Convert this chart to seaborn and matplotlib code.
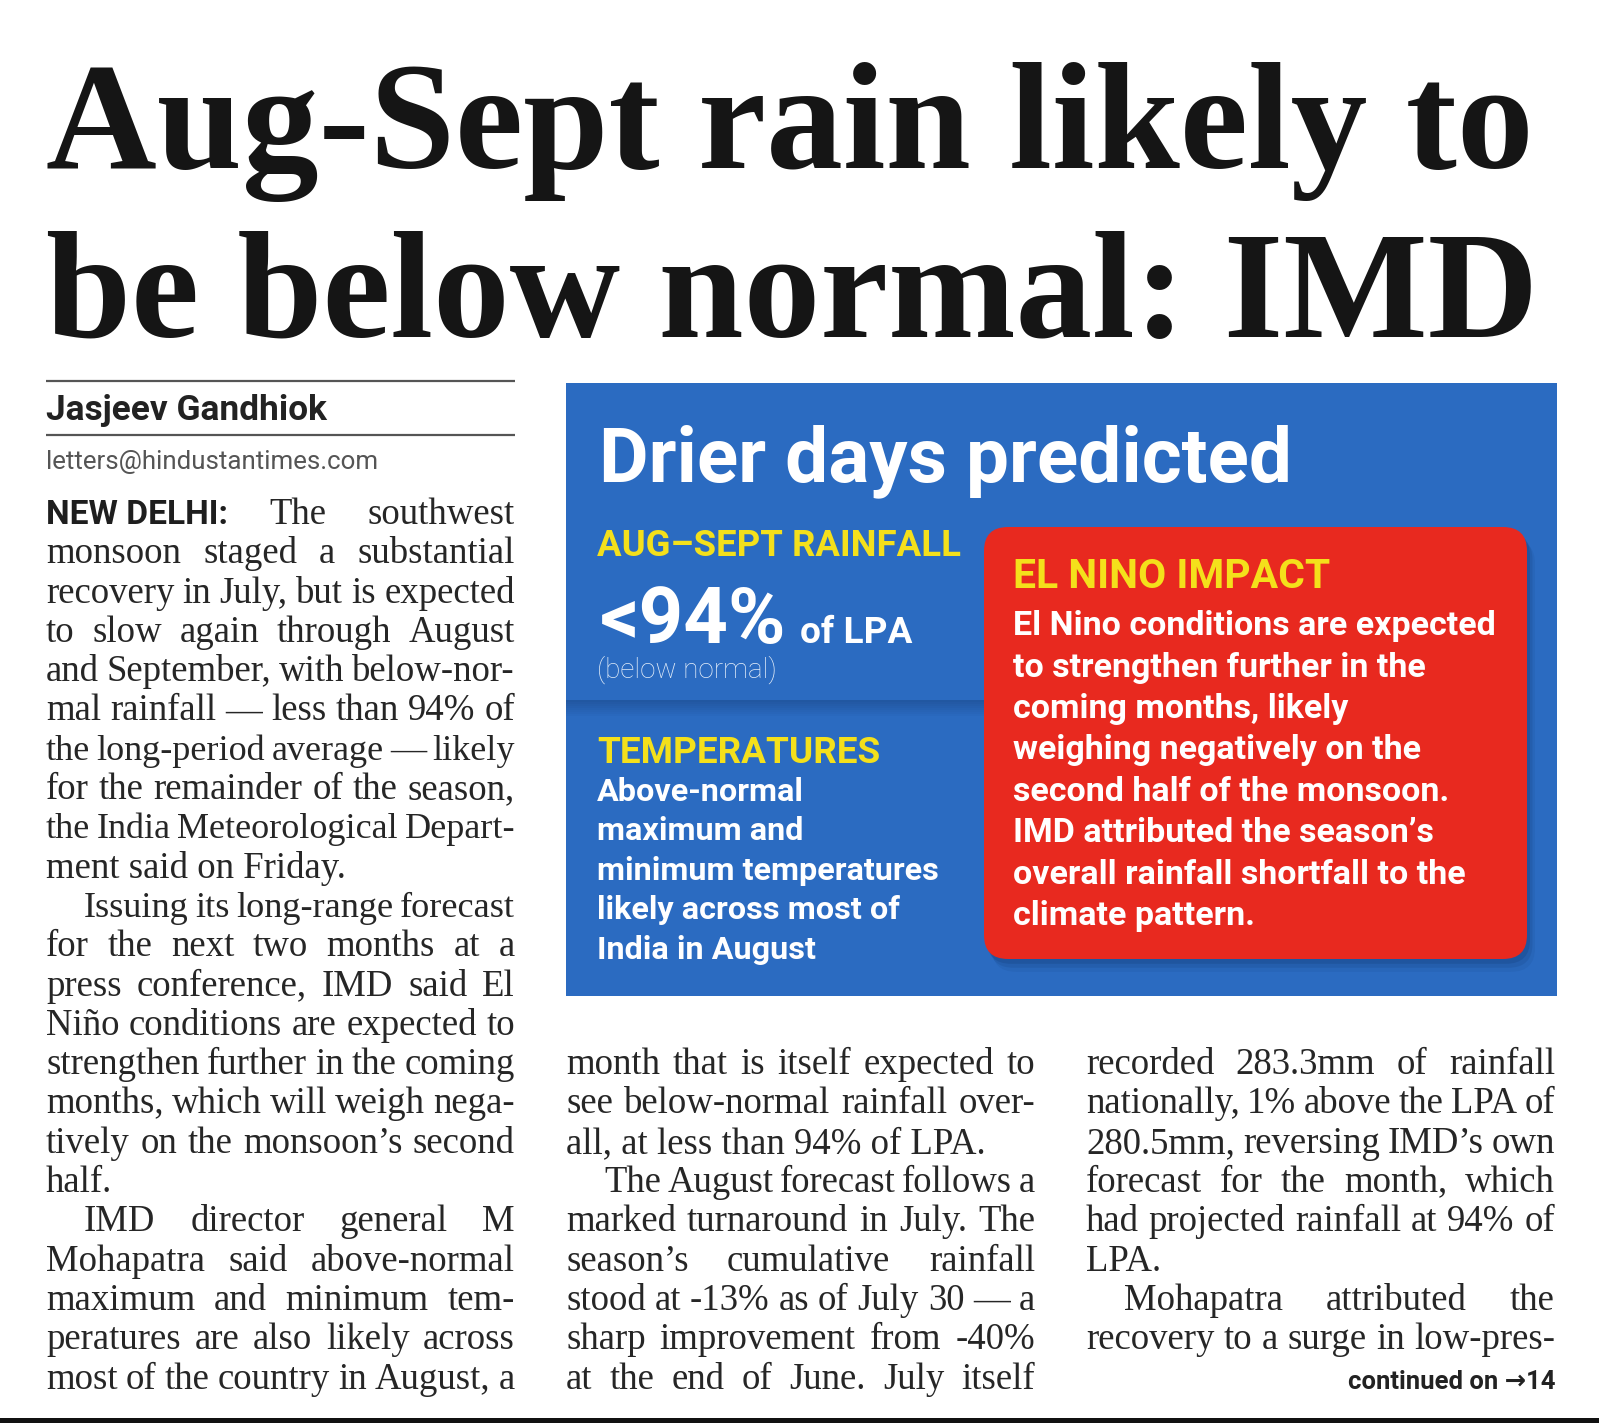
import matplotlib
matplotlib.use("Agg")
import matplotlib.pyplot as plt
import seaborn as sns
from matplotlib import font_manager
from matplotlib.patches import Rectangle, FancyBboxPatch

# ---- page text ----
headline = ["Aug-Sept rain likely to", "be below normal: IMD"]
byline = "Jasjeev Gandhiok"
email = "letters@hindustantimes.com"
dateline = "NEW DELHI:"

col1_paras = [
    ["The southwest",
     "monsoon staged a substantial",
     "recovery in July, but is expected",
     "to slow again through August",
     "and September, with below-nor-",
     "mal rainfall \u2014 less than 94% of",
     "the long-period average \u2014 likely",
     "for the remainder of the season,",
     "the India Meteorological Depart-",
     "ment said on Friday."],
    ["Issuing its long-range forecast",
     "for the next two months at a",
     "press conference, IMD said El",
     "Ni\u00f1o conditions are expected to",
     "strengthen further in the coming",
     "months, which will weigh nega-",
     "tively on the monsoon\u2019s second",
     "half."],
    ["IMD director general M",
     "Mohapatra said above-normal",
     "maximum and minimum tem-",
     "peratures are also likely across",
     "most of the country in August, a"],
]
col2_paras = [
    ["month that is itself expected to",
     "see below-normal rainfall over-",
     "all, at less than 94% of LPA."],
    ["The August forecast follows a",
     "marked turnaround in July. The",
     "season\u2019s cumulative rainfall",
     "stood at -13% as of July 30 \u2014 a",
     "sharp improvement from -40%",
     "at the end of June. July itself"],
]
col3_paras = [
    ["recorded 283.3mm of rainfall",
     "nationally, 1% above the LPA of",
     "280.5mm, reversing IMD\u2019s own",
     "forecast for the month, which",
     "had projected rainfall at 94% of",
     "LPA."],
    ["Mohapatra attributed the",
     "recovery to a surge in low-pres-"],
]
continued = "continued on \u219214"

box_title = "Drier days predicted"
rain_label = "AUG\u2013SEPT RAINFALL"
rain_value = "<94%"
rain_unit = "of LPA"
rain_note = "(below normal)"
temp_label = "TEMPERATURES"
temp_lines = ["Above-normal", "maximum and", "minimum temperatures",
              "likely across most of", "India in August"]
nino_label = "EL NINO IMPACT"
nino_lines = ["El Nino conditions are expected",
              "to strengthen further in the",
              "coming months, likely",
              "weighing negatively on the",
              "second half of the monsoon.",
              "IMD attributed the season\u2019s",
              "overall rainfall shortfall to the",
              "climate pattern."]

# ---- fonts and colours ----
sns.set_theme(style="white")
installed = {f.name for f in font_manager.fontManager.ttflist}
SANS = "Roboto" if "Roboto" in installed else "DejaVu Sans"
SERIF = "Liberation Serif" if "Liberation Serif" in installed else "DejaVu Serif"
plt.rcParams["font.family"] = [SANS, "DejaVu Sans"]

BLUE = "#2b6bc1"
RED = "#e8291f"
YELLOW = "#f4e01b"
INK = "#262626"

fig = plt.figure(figsize=(15.99, 14.27), dpi=100)
fig.patch.set_facecolor("white")
ax = fig.add_axes([0, 0, 1, 1])
ax.set_xlim(0, 1599)
ax.set_ylim(1427, 0)
ax.axis("off")
renderer = fig.canvas.get_renderer()

sans = dict(family=[SANS, "DejaVu Sans"])
serif = dict(family=[SERIF, "DejaVu Serif"])


def measure(s, **kw):
    t = ax.text(0, 0, s, **kw)
    w = t.get_window_extent(renderer).width
    t.remove()
    return w


def fit(s, width, **kw):
    return 20 * width / measure(s, fontsize=20, **kw)


def put(x, y, s, width=None, size=None, **kw):
    if size is None:
        size = fit(s, width, **kw)
    ax.text(x, y, s, fontsize=size, va="baseline", **kw)
    return size


# ---- headline ----
for line, base in zip(headline, [168, 337]):
    put(46, base, line, width=1489, weight="bold", color="#151515", **serif)

# ---- byline ----
for yr in [381, 435]:
    ax.plot([46, 515], [yr, yr], color="#555555", lw=1.6, solid_capstyle="butt")
put(46, 420, byline, width=280, weight="bold", color="#222222", **sans)
put(46, 469, email, width=331, color="#555555", **sans)

# ---- body columns ----
LEAD = 39.3
TOP = 524
INDENT = 38
BODY = 26.5          # pt
MIN_GAP = 0.18       # em, tightest word gap allowed before a line is shrunk
columns = [(col1_paras, 46, 515, TOP, False, True, dateline),
           (col2_paras, 566, 1035, TOP + 14 * LEAD, True, True, None),
           (col3_paras, 1086, 1555, TOP + 14 * LEAD, True, True, None)]
lead_size = fit(dateline, 182, weight="bold", **sans)

for paras, x0, x1, ytop, cin, cout, lead in columns:
    y = ytop
    for pi, para in enumerate(paras):
        for li, line in enumerate(para):
            last = li == len(para) - 1 and not (pi == len(paras) - 1 and cout)
            indent = INDENT if (li == 0 and not (pi == 0 and (cin or lead))) else 0
            avail = x1 - x0 - indent
            if last:
                ax.text(x0 + indent, y, line, fontsize=BODY, color=INK, va="baseline", **serif)
                y += LEAD
                continue
            words = line.split(" ")
            extra = 0.0
            if li == 0 and pi == 0 and lead:
                extra = measure(lead, fontsize=lead_size, weight="bold", **sans)
            nat = sum(measure(w, fontsize=BODY, **serif) for w in words)
            ngap = len(words) - 1 + (1 if extra else 0)
            em = BODY * 100 / 72
            need = extra + nat + ngap * MIN_GAP * em
            size = BODY if need <= avail else BODY * (avail - extra) / (nat + ngap * MIN_GAP * em)
            tokens = [(w, dict(fontsize=size, color=INK, **serif)) for w in words]
            if extra:
                tokens = [(lead, dict(fontsize=lead_size, weight="bold", color="#1e1e1e", **sans))] + tokens
            widths = [measure(t, **kw) for t, kw in tokens]
            gap = (avail - sum(widths)) / (len(tokens) - 1)
            x = x0 + indent
            for (t, kw), w in zip(tokens, widths):
                ax.text(x, y, t, va="baseline", **kw)
                x += w + gap
            y += LEAD

cont_size = fit(continued, 207, weight="bold", **sans)
ax.text(1555, TOP + 22 * LEAD, continued, fontsize=cont_size, weight="bold",
        color="#222222", ha="right", va="baseline", **sans)

# bottom rule
ax.add_patch(Rectangle((0, 1418), 1599, 5, color="#111111", lw=0))

# ---- blue info box ----
ax.add_patch(Rectangle((566, 383), 991, 613, color=BLUE, lw=0, zorder=1))
for i in range(8):
    ax.add_patch(Rectangle((566, 700 + 2 * i), 418, 2, color="#173f7c",
                           alpha=0.45 * (1 - i / 8), lw=0, zorder=1.1))

put(599, 481, box_title, width=691, weight="bold", color="white", zorder=3, **sans)
put(597, 556, rain_label, width=362, weight="bold", color=YELLOW, zorder=3, **sans)
put(600, 643, rain_value, width=186, weight="bold", color="white", zorder=3, **sans)
put(800, 643, rain_unit, width=112, weight="bold", color="white", zorder=3, **sans)
put(597, 678, rain_note, width=180, weight="light", color="#e3edf9", zorder=3, **sans)
put(597, 763, temp_label, width=282, weight="bold", color=YELLOW, zorder=3, **sans)

temp_size = fit(temp_lines[2], 341, weight="bold", **sans)
for k, line in enumerate(temp_lines):
    put(597, 801 + k * 39.4, line, size=temp_size, weight="bold", color="white", zorder=3, **sans)

# ---- red El Nino box ----
for off, a in [(16, 0.10), (11, 0.16), (6, 0.24)]:
    ax.add_patch(FancyBboxPatch((984 + off * 0.5, 527 + off * 0.8), 543, 432,
                                boxstyle="round,pad=0,rounding_size=24",
                                color="#123a73", alpha=a, lw=0, zorder=1.5))
ax.add_patch(FancyBboxPatch((984, 527), 543, 432, boxstyle="round,pad=0,rounding_size=24",
                            color=RED, lw=0, zorder=2))
put(1013, 588, nino_label, width=316, weight="bold", color=YELLOW, zorder=3, **sans)
nino_size = fit(nino_lines[0], 481, weight="bold", **sans)
for k, line in enumerate(nino_lines):
    put(1013, 635 + k * 41.5, line, size=nino_size, weight="bold", color="white", zorder=3, **sans)

fig.savefig("out.png", dpi=100, facecolor="white")
